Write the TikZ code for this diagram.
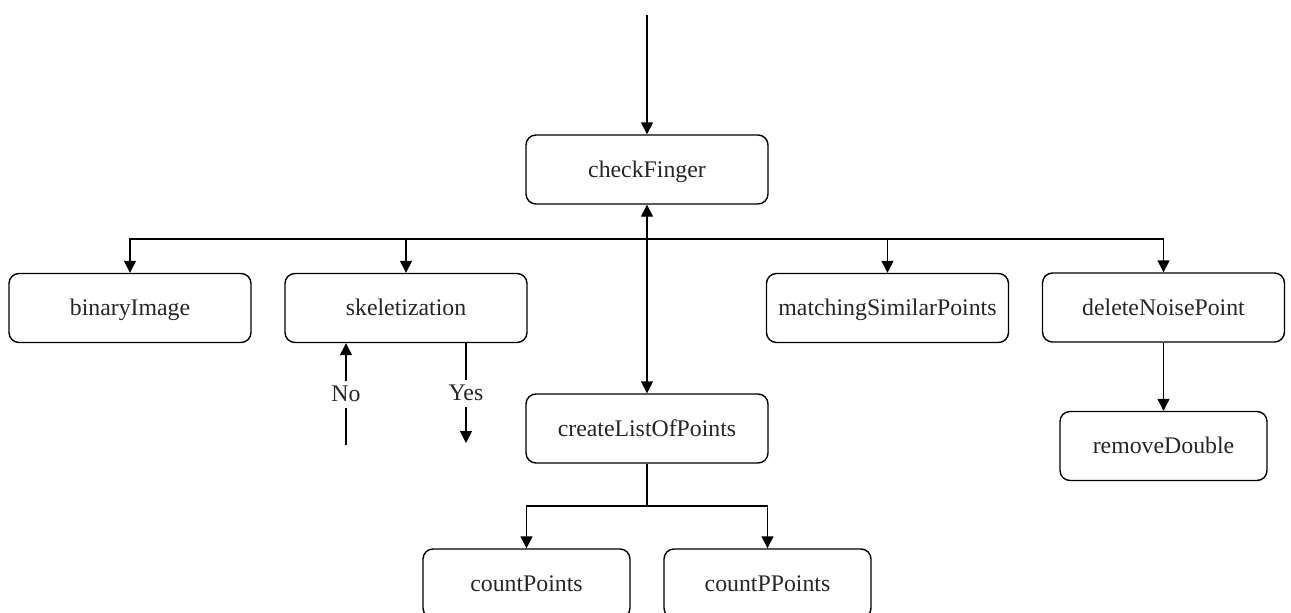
\documentclass[tikz,border=0pt]{standalone}
\usepackage{fontspec}
\setmainfont{Liberation Serif}
\usetikzlibrary{arrows.meta}
\begin{document}
\begin{tikzpicture}[x=1pt,y=-1pt,
  box/.style={draw, line width=1.4pt, rounded corners=10pt, minimum width=242pt,
    minimum height=69pt, inner sep=0pt, text height=17pt, text depth=2pt,
    font=\fontsize{23.8}{28}\selectfont, text=black!85},
  smallbox/.style={box, minimum width=207pt},
  conn/.style={line width=1.4pt},
  arr/.style={conn, -{Triangle[length=12pt,width=12pt]}},
  dblarr/.style={conn, {Triangle[length=12pt,width=12pt]}-{Triangle[length=12pt,width=12pt]}},
  lbl/.style={fill=white, inner sep=5.5pt, font=\fontsize{23.8}{28}\selectfont, text=black!85}]
  \clip (0,0) rectangle (1291,613);
  \fill[white] (0,0) rectangle (1291,613);

  % main blocks
  \node[box] (cf)  at (647,169.5)    {checkFinger};
  \node[box] (bin) at (130,308)      {binaryImage};
  \node[box] (sk)  at (406,308)      {skeletization};
  \node[box] (ms)  at (887.5,308)    {matchingSimilarPoints};
  \node[box] (dn)  at (1163.5,307.5) {deleteNoisePoint};
  \node[box] (cl)  at (647,428.5)    {createListOfPoints};
  \node[smallbox] (rd)  at (1163.5,446)  {removeDouble};
  \node[smallbox] (cp)  at (526.5,583.5) {countPoints};
  \node[smallbox] (cpp) at (767.5,583.5) {countPPoints};

  % helper points
  \coordinate (entry) at (647,15);
  \coordinate (bar)   at (647,239);
  \coordinate (split) at (647,506);
  \coordinate (noin)  at (346,445);
  \coordinate (yesout) at (466,443);

  % entry into checkFinger
  \draw[arr] (entry) -- (cf);

  % fan-out bar to the second row
  \draw[arr] (bar) -| (bin);
  \draw[arr] (bar) -| (sk);
  \draw[arr] (bar) -| (ms);
  \draw[arr] (bar) -| (dn);

  % checkFinger <-> createListOfPoints
  \draw[dblarr] (cf) -- (cl);

  % skeletization decision branches
  \draw[arr] (noin) -- node[lbl] {No} (noin |- sk.south);
  \draw[arr] (yesout |- sk.south) -- node[lbl] {Yes} (yesout);

  % deleteNoisePoint -> removeDouble
  \draw[arr] (dn) -- (rd);

  % createListOfPoints -> counters
  \draw[conn] (cl) -- (split);
  \draw[arr] (split) -| (cp);
  \draw[arr] (split) -| (cpp);
\end{tikzpicture}
\end{document}
